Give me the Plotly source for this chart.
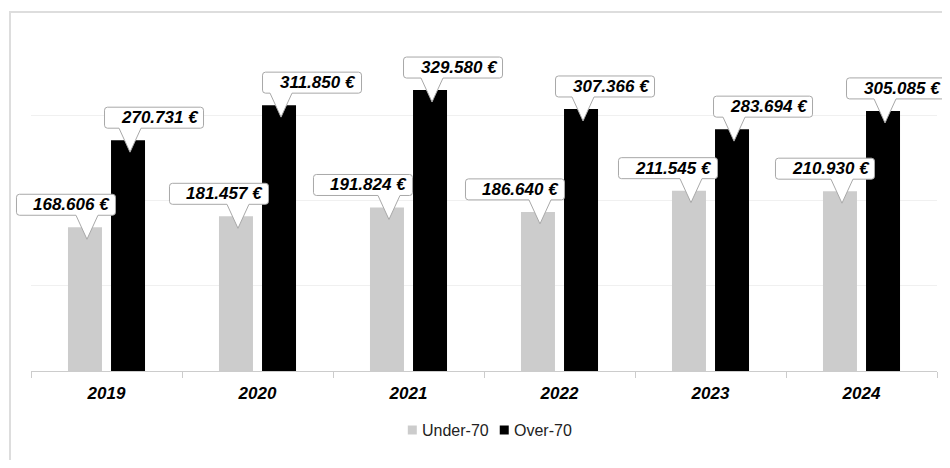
import plotly.graph_objects as go

# ---- data ----
years = ["2019", "2020", "2021", "2022", "2023", "2024"]
under_70 = [168606, 181457, 191824, 186640, 211545, 210930]
over_70 = [270731, 311850, 329580, 307366, 283694, 305085]
series_names = ["Under-70", "Over-70"]

# ---- style ----
colors = ["#cccccc", "#000000"]
label_dx = [  # horizontal offset of callout box centre vs bar centre (px)
    [-19, -17, -24, -23, -21, -15],
    [26, 33, 23, 24, 31, 13],
]
OFF = 8  # page body margin
W, H = 950 - OFF, 468 - 2 * OFF
# plot area in screen pixels: x 31..937.5, y 30..371
ML, MT = 31 - OFF, 30 - OFF
MR = W - (937.5 - OFF)
MB = H - (371 - OFF)
X_RANGE = [-0.5, len(years) - 0.5]
Y_RANGE = [0, 400000]
BARGAP = 0.43
BOX_W, BOX_H = 99, 21
BOX_GAP = 12      # box bottom above bar top (px)
TIP_DEPTH = 12    # pointer tip below bar top (px)
TIP_HALF = 11
R = 3
FONT = "Liberation Sans, Arial, Helvetica, sans-serif"


def fmt(v):
    return f"{v:,}".replace(",", ".") + " €"


def xdom(x):
    return (x - X_RANGE[0]) / (X_RANGE[1] - X_RANGE[0])


def ydom(y):
    return (y - Y_RANGE[0]) / (Y_RANGE[1] - Y_RANGE[0])


fig = go.Figure()
for name, vals, col in zip(series_names, [under_70, over_70], colors):
    fig.add_trace(go.Bar(x=years, y=vals, name=name, marker=dict(color=col, line=dict(width=0)),
                         showlegend=False, hoverinfo="skip"))

slot = (1 - BARGAP) / 2
shapes = []
annotations = []
for s, vals in enumerate([under_70, over_70]):
    off = -slot / 2 if s == 0 else slot / 2
    for i, v in enumerate(vals):
        xc = i + off
        dx = label_dx[s][i]
        L, Rr = dx - BOX_W / 2, dx + BOX_W / 2
        B, T = BOX_GAP, BOX_GAP + BOX_H
        tip = 2
        path = (f"M{tip - TIP_HALF},{B} L{tip},{-TIP_DEPTH} L{tip + TIP_HALF},{B} "
                f"L{Rr - R},{B} Q{Rr},{B} {Rr},{B + R} L{Rr},{T - R} Q{Rr},{T} {Rr - R},{T} "
                f"L{L + R},{T} Q{L},{T} {L},{T - R} L{L},{B + R} Q{L},{B} {L + R},{B} Z")
        # domain refs so that the callouts are not clipped to the plot area
        shapes.append(dict(type="path", xref="x domain", yref="y domain",
                           xsizemode="pixel", ysizemode="pixel",
                           xanchor=xdom(xc), yanchor=ydom(v), path=path, fillcolor="white",
                           line=dict(color="#a8a8a8", width=1), layer="above"))
        annotations.append(dict(x=xc, y=v, xref="x", yref="y", showarrow=False,
                                xshift=dx + 6, yshift=B + BOX_H / 2,
                                text=f"<b><i>{fmt(v)}</i></b>",
                                font=dict(family=FONT, size=17, color="#000")))

pw = W - ML - MR
ph = H - MT - MB


def px_x(sx):  # screen x -> paper
    return (sx - OFF - ML) / pw


def px_y(sy):  # screen y -> paper
    return (H - MB - (sy - OFF)) / ph


# outer border (only top and left edges are visible in the frame)
border = dict(color="#dddddd", width=2)
shapes.append(dict(type="line", xref="paper", yref="paper",
                   x0=px_x(9), x1=px_x(1000), y0=px_y(12), y1=px_y(12), line=border, layer="below"))
shapes.append(dict(type="line", xref="paper", yref="paper",
                   x0=px_x(10), x1=px_x(10), y0=px_y(11), y1=px_y(520), line=border, layer="below"))

# custom legend
legend_x = [408, 500]
for name, col, lx in zip(series_names, colors, legend_x):
    shapes.append(dict(type="rect", xref="paper", yref="paper", xsizemode="pixel", ysizemode="pixel",
                       xanchor=px_x(lx), yanchor=px_y(430), x0=0, x1=9, y0=-4.5, y1=4.5,
                       fillcolor=col, line=dict(width=0)))
    annotations.append(dict(x=px_x(lx + 12), y=px_y(430), xref="paper", yref="paper",
                            xanchor="left", yanchor="middle", showarrow=False, text=name,
                            font=dict(family=FONT, size=16, color="#222")))

fig.update_layout(
    width=W, height=H,
    margin=dict(l=ML, r=MR, t=MT, b=MB, pad=0),
    paper_bgcolor="white", plot_bgcolor="white",
    barmode="group", bargap=BARGAP, bargroupgap=0.21,
    shapes=shapes, annotations=annotations,
    xaxis=dict(type="category", range=X_RANGE, autorange=False,
               showgrid=False, showline=True, linecolor="#cccccc", linewidth=1,
               ticks="outside", tickson="boundaries", ticklen=6, tickcolor="#cccccc",
               tickfont=dict(family=FONT, size=17, color="#000"),
               tickprefix="<b><i>", ticksuffix="</i></b>", ticklabelstandoff=7),
    yaxis=dict(range=Y_RANGE, autorange=False, dtick=100000, showticklabels=False, showgrid=True,
               gridcolor="#f0f0f0", gridwidth=1, zeroline=False, showline=False),
    font=dict(family=FONT),
)

fig.write_html("out.html")
